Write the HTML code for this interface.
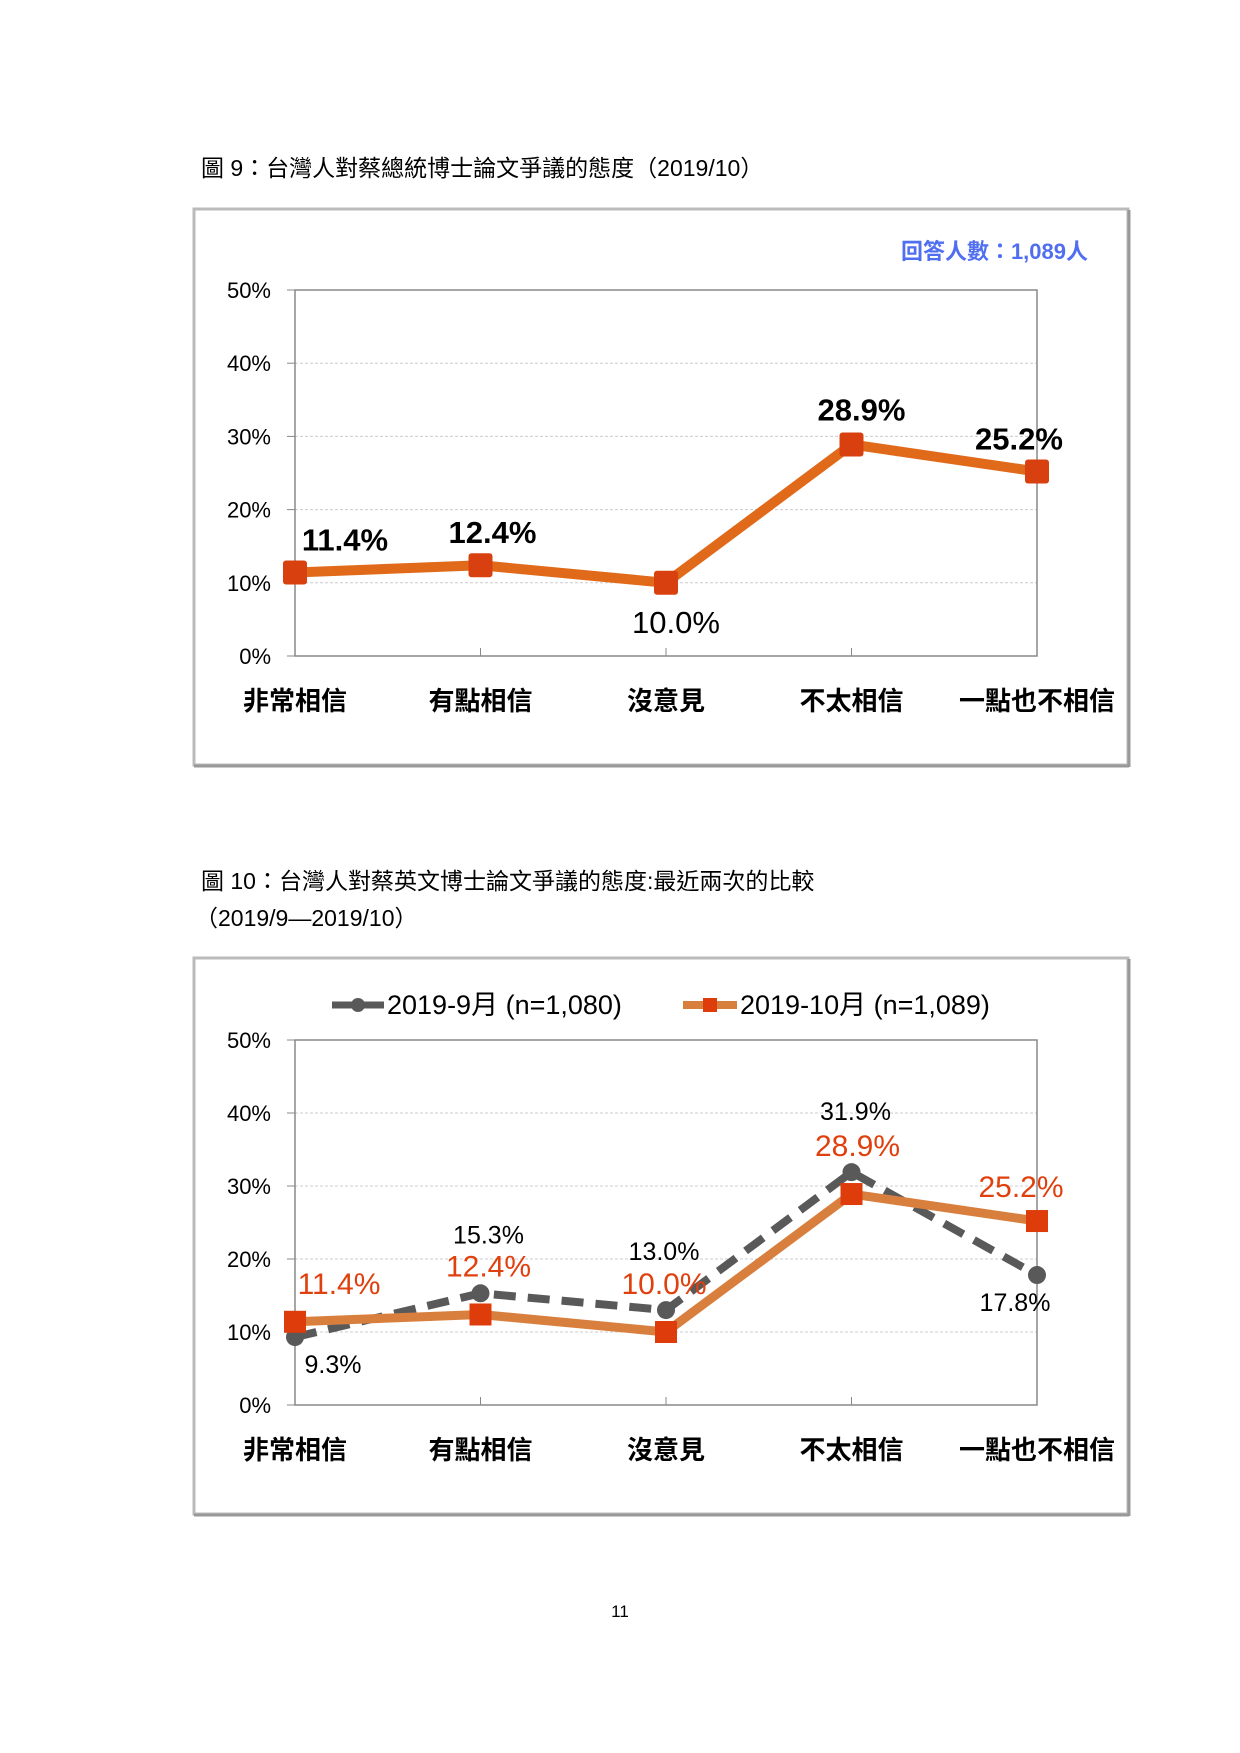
<!DOCTYPE html>
<html><head><meta charset="utf-8"><style>
body{margin:0;background:#fff}
svg{display:block}
text{font-family:"Liberation Sans","Noto Sans CJK TC",sans-serif}
</style></head><body>
<svg id="page" width="1240" height="1753" viewBox="0 0 1240 1753">
<text x="201" y="176" font-size="23" fill="#000" font-family="'Liberation Serif','Noto Serif CJK SC',serif">圖 9：台灣人對蔡總統博士論文爭議的態度（2019/10）</text>
<g>
<rect x="194" y="209" width="934" height="556" fill="#fff" stroke="#bbb" stroke-width="3"/>
<line x1="1129" y1="210" x2="1129" y2="767" stroke="#999" stroke-width="3"/>
<line x1="194" y1="766" x2="1129" y2="766" stroke="#999" stroke-width="3"/>
</g>
<text x="1088" y="259" font-size="22" font-weight="bold" fill="#4f6ef0" text-anchor="end">回答人數：1,089人</text>
<g id="c1"></g>

<text x="201" y="889" font-size="23" fill="#000" font-family="'Liberation Serif','Noto Serif CJK SC',serif">圖 10：台灣人對蔡英文博士論文爭議的態度:最近兩次的比較</text>
<text x="195" y="926" font-size="23" fill="#000" font-family="'Liberation Serif','Noto Serif CJK SC',serif">（2019/9—2019/10）</text>
<g>
<rect x="194" y="958" width="934" height="556" fill="#fff" stroke="#bbb" stroke-width="3"/>
<line x1="1129" y1="959" x2="1129" y2="1516" stroke="#999" stroke-width="3"/>
<line x1="194" y1="1515" x2="1129" y2="1515" stroke="#999" stroke-width="3"/>
</g>
<g>
<g>
<line x1="332" y1="1005" x2="384" y2="1005" stroke="#595959" stroke-width="7"/>
<circle cx="358" cy="1005" r="7" fill="#595959"/>
<text x="387" y="1014" font-size="27" fill="#000">2019-9月 (n=1,080)</text>
</g>
<g>
<line x1="683" y1="1005" x2="737" y2="1005" stroke="#d97f3e" stroke-width="8"/>
<rect x="703" y="998" width="14" height="14" fill="#de3c0b"/>
<text x="740" y="1014" font-size="27" fill="#000">2019-10月 (n=1,089)</text>
</g>
</g>
<g id="c2"></g>
<text x="620" y="1617" font-size="17" text-anchor="middle" fill="#000">11</text>
</svg>
<script>
const categories = ["非常相信","有點相信","沒意見","不太相信","一點也不相信"];
const yTicks = [0,10,20,30,40,50];
const oct2019 = [11.4,12.4,10.0,28.9,25.2];
const sep2019 = [9.3,15.3,13.0,31.9,17.8];

const NS="http://www.w3.org/2000/svg";
function mk(p,tag,attrs,txt){const e=document.createElementNS(NS,tag);for(const k in attrs)e.setAttribute(k,attrs[k]);if(txt!==undefined)e.textContent=txt;p.appendChild(e);return e;}

function axes(g,top,bottom){
  const left=295,right=1037;
  const x=i=>left+i*(right-left)/(categories.length-1);
  const y=v=>bottom-(v/50)*(bottom-top);
  yTicks.forEach(t=>{
    if(t>0&&t<50){const l=mk(g,'line',{x1:left,x2:right,y1:y(t),y2:y(t),stroke:'#ccc','stroke-dasharray':'3,2','stroke-width':1});
    
    }
    const tk=mk(g,'line',{x1:left-8,x2:left,y1:y(t),y2:y(t),stroke:'#888'});
    
    
    const tl=mk(g,'text',{x:271,y:y(t)+8,'font-size':22,'text-anchor':'end',fill:'#000'},t+'%');
    
    
  });
  const fr=mk(g,'rect',{x:left,y:top,width:right-left,height:bottom-top,fill:'none',stroke:'#888','stroke-width':1.5});
  
  
  categories.forEach((c,i)=>{
    if(i>0&&i<categories.length-1){const tk=mk(g,'line',{x1:x(i),x2:x(i),y1:bottom,y2:bottom-8,stroke:'#888'});
    
    }
    const cl=mk(g,'text',{x:x(i),y:bottom+54,'font-size':26,'font-weight':'bold','text-anchor':'middle',fill:'#000'},c);
    
    
  });
  return {x,y};
}

// Chart 1
(function(){
  const g=document.getElementById('c1');
  const {x,y}=axes(g,290,656);
  const pl=mk(g,'polyline',{points:oct2019.map((v,i)=>x(i)+','+y(v)).join(' '),fill:'none',stroke:'#e06a1a','stroke-width':10,'stroke-linejoin':'round'});
  
  
  const offs=[[50,-22],[12,-22],[10,50],[10,-24],[-18,-22]];
  oct2019.forEach((v,i)=>{
    const r=mk(g,'rect',{x:x(i)-12,y:y(v)-12,width:24,height:24,rx:3,fill:'#d9400f'});
    
    
    const t=mk(g,'text',{x:x(i)+offs[i][0],y:y(v)+offs[i][1],'font-size':31,'font-weight':i==2?'normal':'bold','text-anchor':'middle',fill:'#000'},v.toFixed(1)+'%');
    
    
  });
})();

// Chart 2
(function(){
  const g=document.getElementById('c2');
  const {x,y}=axes(g,1040,1405);
  const ps=mk(g,'polyline',{points:sep2019.map((v,i)=>x(i)+','+y(v)).join(' '),fill:'none',stroke:'#595959','stroke-width':8,'stroke-dasharray':'22,12'});
  
  
  const po=mk(g,'polyline',{points:oct2019.map((v,i)=>x(i)+','+y(v)).join(' '),fill:'none',stroke:'#d97f3e','stroke-width':9,'stroke-linejoin':'round'});
  
  
  sep2019.forEach((v,i)=>{
    const c=mk(g,'circle',{cx:x(i),cy:y(v),r:9,fill:'#595959'});
    
    
  });
  oct2019.forEach((v,i)=>{
    const r=mk(g,'rect',{x:x(i)-11,y:y(v)-11,width:22,height:22,fill:'#de3c0b'});
    
    
  });
  const sOff=[[38,36],[8,-50],[-2,-50],[4,-52],[-22,36]];
  const oOff=[[44,-28],[8,-38],[-2,-38],[6,-38],[-16,-24]];
  sep2019.forEach((v,i)=>{
    const t=mk(g,'text',{x:x(i)+sOff[i][0],y:y(v)+sOff[i][1],'font-size':25,'text-anchor':'middle',fill:'#000'},v.toFixed(1)+'%');
    
    
  });
  oct2019.forEach((v,i)=>{
    const t=mk(g,'text',{x:x(i)+oOff[i][0],y:y(v)+oOff[i][1],'font-size':30,'text-anchor':'middle',fill:'#e0400e'},v.toFixed(1)+'%');
    
    
  });
})();
</script>
</body></html>
